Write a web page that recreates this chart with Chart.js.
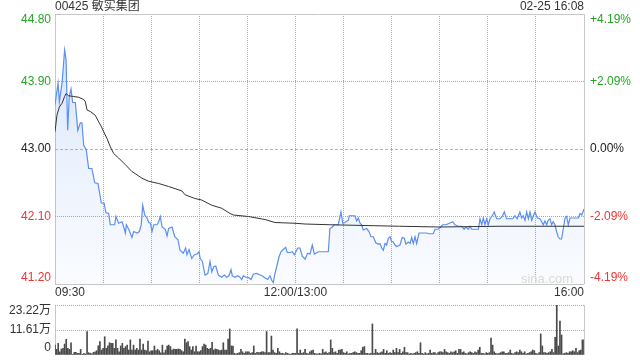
<!DOCTYPE html>
<html>
<head>
<meta charset="utf-8">
<script src="https://cdn.jsdelivr.net/npm/chart.js@4.4.1/dist/chart.umd.min.js"></script>
<style>
  body { margin: 0; background: #fff; }
  #wrap { position: relative; width: 640px; height: 360px; }
  #priceChart { position: absolute; left: 0; top: 0; }
  #volChart { position: absolute; left: 0; top: 300px; }
</style>
</head>
<body>
<div id="wrap">
  <canvas id="priceChart" width="640" height="300"></canvas>
  <canvas id="volChart" width="640" height="60"></canvas>
</div>
<script>
// 敏实集团 (00425) 分时图

const stockName = "00425 敏实集团";
const stampText = "02-25 16:08";
const prevClose = 43.00;

const priceTicks = [41.20, 42.10, 43.00, 43.90, 44.80];
const pctLabels = ["-4.19%", "-2.09%", "0.00%", "+2.09%", "+4.19%"];
const gridMinutes = [0, 30, 60, 90, 120, 150, 180, 210, 240, 270, 300, 330];
const timeTicks = [0, 150, 330];
const timeLabels = ["09:30", "12:00/13:00", "16:00"];
const volTicks = [0, 11.61, 23.22];
const volLabels = ["0", "11.61万", "23.22万"];

// minutes since 09:30 (lunch break removed)
const priceMinutes = [0, 1.9, 2.7, 4.4, 6, 6.9, 7.9, 8.9, 10, 11,
    12.7, 14.2, 15.8, 16.8, 17.9, 19.5, 21, 23, 24.8, 26.8,
    28.9, 30.6, 31.8, 33.5, 34.5, 37.2, 38, 39.7, 41.8, 42.9,
    43.9, 44.5, 46, 48, 49.1, 51.2, 52.6, 53.8, 54.7, 56,
    57.4, 58.5, 59.5, 60.5, 61.6, 63.6, 64.7, 65.7, 66.8, 68.8,
    69.9, 70.9, 73, 74.7, 76.7, 78, 80, 81.5, 82.3, 83.6,
    85.3, 86.9, 88.6, 89.8, 90.6, 91.9, 93.6, 95.3, 96.7, 97.8,
    99, 100.3, 101.9, 104, 105.6, 107.1, 108.5, 109.8, 110.6, 112.3,
    114, 115.4, 116.5, 117.5, 119, 120.6, 122.3, 123.7, 125.8, 127.9,
    129.3, 131, 132.7, 134.1, 135.2, 136.2, 137.2, 138.3, 139.7, 141,
    142.4, 143.9, 144.9, 146.6, 148, 149.3, 151.4, 152.8, 154.3, 156,
    157.6, 159.1, 160.5, 161.8, 164.3, 166.4, 170.5, 171.5, 173, 174.2,
    176.7, 178.4, 179.5, 180.9, 183, 183.6, 187.1, 188.2, 189.2, 190.3,
    191.3, 192.3, 194.4, 195.9, 197.1, 198.6, 200.1, 201.7, 202.7, 203.8,
    204.8, 205.9, 206.9, 207.9, 209, 210, 211, 212.1, 213.1, 215.2,
    216.6, 217.9, 218.9, 220.4, 221.5, 222.5, 223.5, 224.6, 225.6, 227.1,
    231.9, 233.3, 236, 237, 239.1, 240.1, 241.8, 243.9, 246, 248.1,
    249.5, 251.6, 253.7, 255.2, 256.4, 257.8, 258.9, 259.9, 264.1, 265.1,
    266.2, 267.2, 268.2, 269.3, 270.3, 271.4, 273, 274, 275.5, 277.6,
    279, 280.3, 281.7, 285.5, 286.9, 288.3, 290, 291.1, 292.1, 293.2,
    294.2, 295.3, 296.3, 297.4, 298.4, 299.4, 300.9, 302.5, 303.6, 304.6,
    305.6, 306.7, 307.7, 308.8, 309.8, 310.8, 311.9, 312.9, 313.9, 315,
    316, 317.1, 318.1, 319.2, 320.2, 321.3, 326.5, 327.5, 328.6, 330];
const prices = [43.59, 43.88, 43.63, 43.88, 44.32, 44.19, 43.25, 43.70, 43.80, 43.62,
    43.62, 43.25, 43.35, 43.35, 43.05, 42.99, 42.74, 42.74, 42.55, 42.54,
    42.28, 42.28, 42.15, 42.14, 41.99, 41.99, 42.10, 42.01, 42.03, 41.96,
    41.88, 41.99, 41.93, 41.82, 41.90, 41.88, 41.90, 41.99, 42.25, 42.12,
    42.08, 42.02, 42.01, 41.90, 41.99, 41.99, 42.03, 42.10, 41.96, 41.93,
    41.84, 41.94, 41.96, 41.83, 41.79, 41.65, 41.61, 41.68, 41.59, 41.66,
    41.54, 41.59, 41.60, 41.63, 41.54, 41.50, 41.32, 41.34, 41.50, 41.36,
    41.43, 41.44, 41.32, 41.29, 41.32, 41.29, 41.31, 41.39, 41.31, 41.29,
    41.31, 41.29, 41.26, 41.31, 41.29, 41.29, 41.26, 41.33, 41.34, 41.32,
    41.31, 41.28, 41.26, 41.31, 41.25, 41.22, 41.34, 41.43, 41.56, 41.63,
    41.66, 41.69, 41.62, 41.62, 41.63, 41.59, 41.68, 41.68, 41.57, 41.53,
    41.61, 41.60, 41.72, 41.60, 41.63, 41.63, 41.63, 41.94, 41.96, 41.99,
    41.99, 42.16, 42.01, 42.02, 42.05, 42.11, 42.11, 42.04, 42.08, 42.01,
    41.99, 41.92, 41.94, 41.90, 41.83, 41.83, 41.75, 41.73, 41.74, 41.68,
    41.65, 41.74, 41.72, 41.81, 41.83, 41.77, 41.76, 41.72, 41.70, 41.72,
    41.82, 41.81, 41.73, 41.76, 41.74, 41.82, 41.74, 41.83, 41.74, 41.88,
    41.88, 41.87, 41.87, 41.93, 41.93, 41.95, 41.99, 41.99, 42.01, 42.03,
    41.99, 41.97, 41.97, 41.93, 41.96, 41.93, 41.97, 41.93, 41.93, 42.07,
    41.99, 42.08, 41.99, 42.07, 41.99, 42.07, 42.12, 42.16, 42.07, 42.07,
    42.10, 42.16, 42.07, 42.07, 42.11, 42.07, 42.16, 42.08, 42.11, 42.05,
    42.16, 42.07, 42.16, 42.05, 42.11, 42.16, 42.08, 42.07, 42.03, 41.99,
    42.04, 41.99, 42.05, 42.07, 41.99, 42.03, 41.99, 41.90, 41.83, 41.80,
    41.80, 41.94, 42.07, 42.10, 41.99, 42.08, 42.08, 42.14, 42.12, 42.20];

// average price line
const avgMinutes = [0, 1.2, 2.7, 4.4, 6, 6.9, 8.5, 11.7, 14.8, 17.9,
    18.9, 20, 22, 25.1, 27.3, 28.9, 30.4, 32.4, 34.5, 36.6,
    39.7, 43.9, 48, 52.2, 54.3, 58.4, 64.7, 70.9, 79.2, 81.1,
    87.3, 91.5, 97.8, 104, 109.2, 111.2, 120.6, 131, 137.2, 149.7,
    156, 171.5, 215, 240, 277.6, 330];
const avgPrices = [43.23, 43.45, 43.56, 43.61, 43.70, 43.74, 43.71, 43.70, 43.69, 43.66,
    43.63, 43.52, 43.50, 43.45, 43.36, 43.30, 43.23, 43.14, 43.03, 42.94,
    42.88, 42.79, 42.70, 42.64, 42.61, 42.57, 42.54, 42.50, 42.44, 42.39,
    42.34, 42.32, 42.25, 42.21, 42.14, 42.12, 42.10, 42.06, 42.02, 42.01,
    42.00, 41.99, 41.97, 41.96, 41.97, 41.97];

// volume per minute (万股)
const volumes = [4.6, 2.6, 5.4, 1.5, 2.8, 3.1, 5.1, 7.3, 3.1, 2.6,
    5.7, 0.3, 1.2, 1.2, 0.8, 0.8, 2.6, 0.3, 0.8, 0.5,
    10.9, 1.1, 0.8, 0.5, 1.2, 1.5, 2.0, 4.3, 6.2, 2.3,
    3.1, 8.5, 3.1, 4.3, 5.7, 5.4, 5.4, 3.1, 7.0, 3.1,
    1.5, 4.2, 5.4, 3.1, 3.9, 4.6, 2.3, 7.0, 2.3, 4.6,
    2.3, 3.1, 2.3, 7.4, 2.3, 5.1, 2.3, 2.0, 6.5, 1.5,
    2.0, 2.0, 4.2, 2.0, 2.6, 2.0, 1.0, 4.6, 1.0, 2.3,
    4.2, 4.6, 3.9, 2.3, 2.8, 2.6, 2.6, 2.8, 2.6, 2.0,
    1.5, 7.4, 5.7, 6.2, 3.9, 2.3, 3.9, 1.5, 4.2, 1.5,
    1.5, 2.0, 3.9, 5.1, 4.6, 3.1, 2.6, 3.1, 5.9, 2.3,
    2.8, 2.6, 2.3, 2.0, 2.3, 5.7, 2.3, 2.3, 7.4, 12.1,
    4.2, 4.2, 0.8, 0.5, 0.8, 1.1, 2.6, 1.5, 0.8, 1.5,
    1.5, 1.5, 0.8, 1.1, 4.2, 0.8, 1.2, 1.1, 1.2, 1.5,
    1.5, 1.1, 10.9, 1.1, 1.1, 8.8, 2.3, 1.1, 0.8, 3.1,
    1.5, 0.8, 0.8, 0.5, 1.1, 0.8, 0.5, 0.3, 0.8, 0.8,
    0.8, 12.1, 0.8, 2.3, 0.8, 1.1, 2.6, 0.8, 0.5, 1.5,
    2.0, 2.3, 0.8, 0.5, 0.5, 0.8, 0.5, 2.6, 1.1, 1.5,
    0.8, 1.1, 7.0, 3.1, 1.1, 1.5, 0.8, 2.3, 2.3, 2.6,
    1.1, 0.8, 1.5, 0.5, 0.8, 0.8, 1.1, 1.5, 1.1, 0.8,
    0.8, 2.0, 3.6, 3.9, 0.8, 0.8, 0.5, 0.8, 14.4, 0.8,
    2.6, 1.1, 0.8, 1.1, 1.5, 2.6, 0.8, 2.0, 0.8, 1.1,
    0.8, 2.3, 1.1, 3.1, 1.1, 2.6, 0.8, 1.5, 3.6, 1.1,
    1.1, 0.5, 0.8, 0.5, 0.8, 1.1, 1.5, 0.8, 5.7, 0.8,
    0.5, 1.1, 0.5, 0.8, 2.3, 0.8, 1.1, 1.1, 0.5, 1.1,
    1.5, 1.5, 1.1, 2.6, 1.5, 1.1, 0.8, 1.5, 1.1, 1.5,
    2.0, 0.8, 2.6, 2.6, 1.1, 1.5, 0.8, 0.5, 1.1, 1.5,
    1.1, 0.8, 1.5, 1.1, 2.3, 3.6, 0.8, 0.8, 0.5, 1.1,
    0.8, 1.1, 7.8, 4.6, 1.5, 0.8, 0.5, 0.8, 1.1, 1.5,
    1.5, 0.8, 0.8, 1.1, 2.3, 0.8, 0.5, 1.1, 1.5, 1.1,
    2.3, 1.5, 0.8, 1.5, 0.5, 0.8, 1.1, 1.5, 2.3, 2.0,
    0.8, 0.5, 1.1, 9.8, 4.2, 1.1, 1.1, 0.8, 1.1, 1.5,
    2.6, 1.1, 8.2, 23.22, 4.2, 15.8, 9.3, 0.5, 0.8, 1.1,
    0.8, 1.5, 1.5, 2.0, 1.5, 3.1, 1.1, 2.0, 2.3, 7.0,
    7.0];

const FONT = '12px "Liberation Sans", Arial, "Noto Sans CJK SC", sans-serif';
const GRID = "#a8a8a8";
const EDGE = "#c8c8c8";

function colorFor(v) {
    if (Math.abs(v - prevClose) < 0.001) return "#222";
    return v > prevClose ? "#23a623" : "#f03434";
}

let width, height, gradient;

function getGradient(ctx, chartArea) {
    const chartWidth = chartArea.right - chartArea.left;
    const chartHeight = chartArea.bottom - chartArea.top;
    if (!gradient || width !== chartWidth || height !== chartHeight) {
        // semi-transparent so the dotted grid shows through the area
        width = chartWidth;
        height = chartHeight;
        gradient = ctx.createLinearGradient(0, chartArea.top, 0, chartArea.bottom);
        gradient.addColorStop(0, "rgba(90, 145, 240, 0.27)");
        gradient.addColorStop(0.5, "rgba(90, 145, 240, 0.13)");
        gradient.addColorStop(1, "rgba(90, 145, 240, 0.03)");
    }
    return gradient;
}

const priceLabels = {
    id: "priceLabels",
    afterDraw(chart) {
        const {ctx, chartArea, scales} = chart;
        ctx.save();
        ctx.font = FONT;
        ctx.textBaseline = "middle";

        // header
        ctx.fillStyle = "#333";
        ctx.textAlign = "left";
        ctx.fillText(stockName, chartArea.left, 7);
        ctx.textAlign = "right";
        ctx.fillText(stampText, chartArea.right, 7);

        // price / percent labels
        priceTicks.forEach((v, i) => {
            let y = scales.y.getPixelForValue(v);
            if (i === 0) y -= 6;
            if (i === priceTicks.length - 1) y += 6;
            ctx.fillStyle = colorFor(v);
            ctx.textAlign = "right";
            ctx.fillText(v.toFixed(2), chartArea.left - 4, y);
            ctx.textAlign = "left";
            ctx.fillText(pctLabels[i], chartArea.right + 6, y);
        });

        // time labels
        ctx.fillStyle = "#333";
        timeTicks.forEach((m, i) => {
            const x = scales.x.getPixelForValue(m);
            ctx.textAlign = i === 0 ? "left" : (i === timeTicks.length - 1 ? "right" : "center");
            ctx.fillText(timeLabels[i], x, chartArea.bottom + 9);
        });

        // watermark
        ctx.font = '13px "Liberation Sans", Arial, sans-serif';
        ctx.fillStyle = "#d9d9d9";
        ctx.textAlign = "right";
        ctx.fillText("sina.com", chartArea.right - 11, chartArea.bottom - 5);
        ctx.restore();
    }
};

const volLabelsPlugin = {
    id: "volLabels",
    afterDraw(chart) {
        const {ctx, chartArea, scales} = chart;
        ctx.save();
        ctx.font = FONT;
        ctx.fillStyle = "#333";
        ctx.textAlign = "right";
        ctx.textBaseline = "middle";
        volTicks.forEach((v, i) => {
            let y = scales.y.getPixelForValue(v);
            if (i === 0) y -= 7;
            if (i === volTicks.length - 1) y += 6;
            ctx.fillText(volLabels[i], chartArea.left - 4, y);
        });
        ctx.restore();
    }
};

function isEdge(scale, value) {
    return value === scale.min || value === scale.max;
}

new Chart("priceChart", {
    type: "line",
    data: {
        datasets: [{
            data: priceMinutes.map((m, i) => ({x: m, y: prices[i]})),
            borderColor: "#5b8ff0",
            borderWidth: 1.2,
            pointRadius: 0,
            tension: 0,
            order: 1,
            fill: "start",
            backgroundColor: function (context) {
                const {ctx, chartArea} = context.chart;
                if (!chartArea) {
                    return;
                }
                return getGradient(ctx, chartArea);
            },
        }, {
            data: avgMinutes.map((m, i) => ({x: m, y: avgPrices[i]})),
            borderColor: "#333",
            borderWidth: 1,
            pointRadius: 0,
            tension: 0,
            order: 0,
            fill: false
        }],
    },
    options: {
        responsive: false,
        animation: false,
        layout: {padding: {left: 55, right: 56, top: 14, bottom: 16}},
        plugins: {
            legend: {display: false},
            tooltip: {enabled: false}
        },
        scales: {
            x: {
                type: "linear",
                min: 0,
                max: 330,
                afterBuildTicks: s => { s.ticks = gridMinutes.map(v => ({value: v})); },
                ticks: {display: false},
                grid: {
                    drawTicks: false,
                    color: c => isEdge(c.scale, c.tick.value) ? EDGE : GRID
                },
                border: {
                    display: false,
                    dash: c => isEdge(c.scale, c.tick.value) ? [] : [1, 1]
                }
            },
            y: {
                min: 41.2,
                max: 44.8,
                afterBuildTicks: s => { s.ticks = priceTicks.map(v => ({value: v})); },
                ticks: {display: false},
                grid: {
                    drawTicks: false,
                    color: c => isEdge(c.scale, c.tick.value) ? EDGE : (c.tick.value === prevClose ? "#b4b4b4" : GRID)
                },
                border: {
                    display: false,
                    dash: c => isEdge(c.scale, c.tick.value) ? [] : (c.tick.value === prevClose ? [3, 2] : [1, 1])
                }
            },
        },
    },
    plugins: [priceLabels]
});

new Chart("volChart", {
    type: "bar",
    data: {
        datasets: [{
            data: volumes.map((v, i) => ({x: i, y: v})),
            backgroundColor: "#4a4a4a",
            barThickness: 1
        }],
    },
    options: {
        responsive: false,
        animation: false,
        layout: {padding: {left: 55, right: 56, top: 5, bottom: 5}},
        plugins: {
            legend: {display: false},
            tooltip: {enabled: false}
        },
        scales: {
            x: {
                type: "linear",
                min: 0,
                max: 330,
                offset: false,
                afterBuildTicks: s => { s.ticks = [{value: 0}, {value: 330}]; },
                ticks: {display: false},
                grid: {drawTicks: false, offset: false, color: EDGE},
                border: {display: false}
            },
            y: {
                min: 0,
                max: 23.22,
                afterBuildTicks: s => { s.ticks = volTicks.map(v => ({value: v})); },
                ticks: {display: false},
                grid: {
                    drawTicks: false,
                    color: c => c.tick.value === 0 ? "rgba(0,0,0,0)" : GRID
                },
                border: {display: false, dash: [1, 1]}
            },
        },
    },
    plugins: [volLabelsPlugin]
});
</script>
</body>
</html>
